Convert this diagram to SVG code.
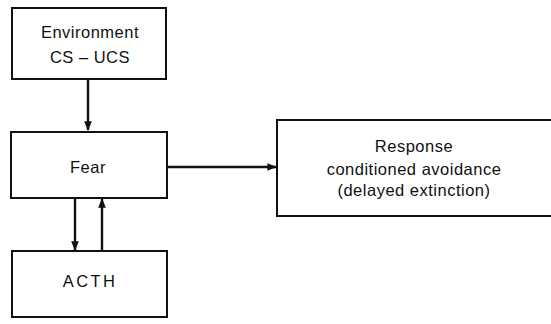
<svg xmlns="http://www.w3.org/2000/svg" width="551" height="324" viewBox="0 0 551 324">
  <style>
    .box { fill: #fff; stroke: #111; stroke-width: 2; }
    .lbl { font-family: "Liberation Sans", "DejaVu Sans", sans-serif; font-size: 16.5px; fill: #111; text-anchor: middle; letter-spacing: 0.5px; }
    .wide { letter-spacing: 2.4px; }
    .edge { stroke: #111; stroke-width: 2.4; fill: none; marker-end: url(#head); }
  </style>
  <defs>
    <marker id="head" viewBox="0 0 10 10" refX="9" refY="5" markerWidth="4" markerHeight="5" markerUnits="strokeWidth" orient="auto">
      <path d="M0,1 L10,5 L0,9 Z" fill="#111"/>
    </marker>
  </defs>
  <rect width="551" height="324" fill="#fff"/>

  <g id="connectors">
    <line class="edge" x1="88" y1="80" x2="88" y2="130"/>
    <line class="edge" x1="168" y1="167" x2="276" y2="167"/>
    <line class="edge" x1="75" y1="198" x2="75" y2="250"/>
    <line class="edge" x1="102" y1="251" x2="102" y2="199"/>
  </g>

  <g id="environment">
    <rect class="box" x="12" y="8" width="154" height="71"/>
    <text class="lbl" x="90" y="38">Environment</text>
    <text class="lbl" x="90" y="63">CS – UCS</text>
  </g>

  <g id="fear">
    <rect class="box" x="11" y="132" width="156" height="66"/>
    <text class="lbl" x="88" y="173">Fear</text>
  </g>

  <g id="acth">
    <rect class="box" x="12" y="251" width="155" height="66"/>
    <text class="lbl wide" x="90" y="287">ACTH</text>
  </g>

  <g id="response">
    <rect class="box" x="277" y="120" width="280" height="96"/>
    <text class="lbl" x="414" y="152">Response</text>
    <text class="lbl" x="414" y="175">conditioned avoidance</text>
    <text class="lbl" x="414" y="196">(delayed extinction)</text>
  </g>
</svg>
